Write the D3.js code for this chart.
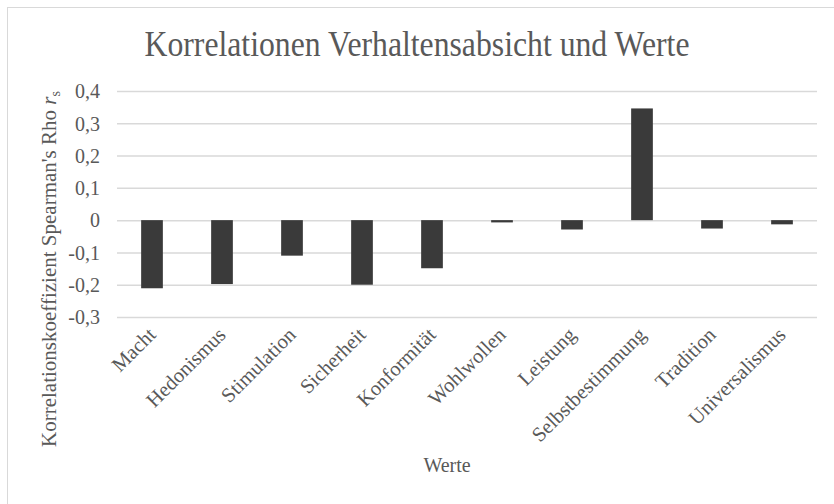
<!DOCTYPE html>
<html>
<head>
<meta charset="utf-8">
<script src="https://cdn.jsdelivr.net/npm/d3@7"></script>
<style>
  body { margin: 0; background: #fff; }
  svg text { font-family: "Liberation Serif", "Times New Roman", "DejaVu Serif", serif; fill: #595959; }
</style>
</head>
<body>
<div id="chart"></div>
<script>
// Werte (Schwartz) und Spearman-Korrelation mit Verhaltensabsicht
let categories = ['Macht', 'Hedonismus', 'Stimulation', 'Sicherheit', 'Konformität',
    'Wohlwollen', 'Leistung', 'Selbstbestimmung', 'Tradition', 'Universalismus'];
let rho = [-0.211, -0.198, -0.110, -0.200, -0.149, -0.007, -0.029, 0.346, -0.026, -0.013];
let yTicks = [0.4, 0.3, 0.2, 0.1, 0, -0.1, -0.2, -0.3];

let width = 834;
let height = 504;
let margin = {top: 91, right: 17, bottom: 187, left: 117};
let serif = '"Liberation Serif", "Times New Roman", serif';

let svg = d3.select('#chart')
    .append('svg')
    .attr('width', width)
    .attr('height', height)
    .attr('font-family', serif);

// chart frame (right and bottom edge lie outside the picture)
svg.append('rect')
    .attr('x', 7.5).attr('y', 7.5)
    .attr('width', 900).attr('height', 600)
    .attr('fill', '#fff')
    .attr('stroke', '#d9d9d9');

let x = d3.scaleBand()
    .domain(categories)
    .range([margin.left, width - margin.right])
    .paddingInner(0.69)
    .paddingOuter(0.345);

let y = d3.scaleLinear()
    .domain([-0.3, 0.4])
    .range([height - margin.bottom, margin.top]);

let fmt = function(d) { return d === 0 ? '0' : d3.format('.1f')(d).replace('.', ',').replace('−', '-'); };

// gridlines + labels
let yAxis = d3.axisLeft(y)
    .tickValues(yTicks)
    .tickSize(-(width - margin.left - margin.right))
    .tickPadding(17)
    .tickFormat(fmt);

let gy = svg.append('g')
    .attr('transform', 'translate(' + margin.left + ',0)')
    .call(yAxis)
    .attr('font-family', serif)
    .attr('font-size', 20);
gy.select('.domain').remove();
gy.selectAll('.tick line').attr('stroke', '#d9d9d9').attr('stroke-width', 1.5);
gy.selectAll('.tick text').attr('fill', '#595959').attr('dy', '0.34em');

// bars
svg.append('g')
    .selectAll('rect')
    .data(categories)
    .join('rect')
    .attr('x', function(d) { return x(d); })
    .attr('width', x.bandwidth())
    .attr('y', function(d, i) { return y(Math.max(0, rho[i])); })
    .attr('height', function(d, i) { return Math.abs(y(rho[i]) - y(0)); })
    .attr('fill', '#3a3a3a');

// category labels, rotated
svg.append('g')
    .selectAll('text')
    .data(categories)
    .join('text')
    .attr('transform', function(d) {
        return 'translate(' + (x(d) + x.bandwidth() / 2 + 5) + ',' + (y(-0.3) + 19) + ') rotate(-45)';
    })
    .attr('text-anchor', 'end')
    .attr('font-size', 20.5)
    .text(function(d) { return d; });

// title
svg.append('text')
    .attr('x', 417)
    .attr('y', 56)
    .attr('text-anchor', 'middle')
    .attr('font-size', 35)
    .attr('textLength', 545)
    .attr('lengthAdjust', 'spacingAndGlyphs')
    .text('Korrelationen Verhaltensabsicht und Werte');

// axis titles
svg.append('text')
    .attr('x', 447)
    .attr('y', 472)
    .attr('text-anchor', 'middle')
    .attr('font-size', 20)
    .text('Werte');

let yt = svg.append('text')
    .attr('transform', 'translate(56,269) rotate(-90)')
    .attr('text-anchor', 'middle')
    .attr('font-size', 21);
yt.append('tspan').text("Korrelationskoeffizient Spearman's Rho ");
yt.append('tspan').attr('font-style', 'italic').text('r');
yt.append('tspan').attr('font-size', 14).attr('dy', 4).text('s');
</script>
</body>
</html>
